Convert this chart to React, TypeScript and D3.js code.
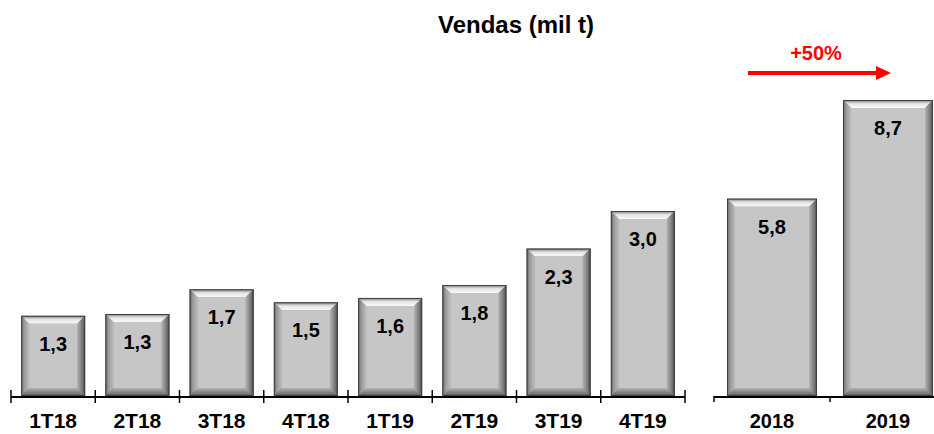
import React from "react";
import * as d3 from "d3";

const quarters = ["1T18", "2T18", "3T18", "4T18", "1T19", "2T19", "3T19", "4T19"];
const quarterValues = [1.3, 1.33, 1.73, 1.52, 1.59, 1.8, 2.39, 3.0];
const quarterLabels = ["1,3", "1,3", "1,7", "1,5", "1,6", "1,8", "2,3", "3,0"];
const years = ["2018", "2019"];
const yearValues = [5.8, 8.7];
const yearLabels = ["5,8", "8,7"];
const title = "Vendas (mil t)";
const growthLabel = "+50%";

const W = 934;
const H = 434;
const baseY = 396;
const FONT = "Arial, 'Liberation Sans', sans-serif";

function Bar({ x, y, w, h, label }: { x: number; y: number; w: number; h: number; label: string }) {
  const b = 8;
  const x1 = x + w;
  const y1 = y + h;
  const pts = (a: number[][]) => a.map((p) => p.join(",")).join(" ");
  return (
    <g>
      <rect x={x} y={y} width={w} height={h} fill="#8c8c8c" />
      <polygon points={pts([[x, y], [x1, y], [x1 - b, y + b], [x + b, y + b]])} fill="url(#gTop)" />
      <polygon points={pts([[x, y], [x + b, y + b], [x + b, y1 - b], [x, y1]])} fill="url(#gLeft)" />
      <polygon points={pts([[x1, y], [x1, y1], [x1 - b, y1 - b], [x1 - b, y + b]])} fill="url(#gRight)" />
      <polygon points={pts([[x, y1], [x1, y1], [x1 - b, y1 - b], [x + b, y1 - b]])} fill="url(#gBottom)" />
      <rect x={x + b} y={y + b} width={w - 2 * b} height={h - 2 * b} fill="#c6c6c6" />
      <rect x={x + 0.5} y={y + 0.5} width={w - 1} height={h - 1} fill="none" stroke="#404040" strokeWidth={1} />
      <text x={x + w / 2} y={y + 35} textAnchor="middle" fontFamily={FONT} fontWeight="bold" fontSize={20} fill="#000">
        {label}
      </text>
    </g>
  );
}

export default function App() {
  const xq = d3.scaleBand<string>().domain(quarters).range([11, 685]).paddingInner(0.24).paddingOuter(0.12);
  const yq = d3.scaleLinear().domain([0, 3.0]).range([baseY, 211]);
  const xy = d3.scaleBand<string>().domain(years).range([714, 946]).paddingInner(0.224).paddingOuter(0.112);
  const yy = d3.scaleLinear().domain([0, 8.7]).range([baseY, 100]);

  const qTicks = d3.range(quarters.length + 1).map((i) => 11 + i * xq.step());
  const yTicks = d3.range(years.length + 1).map((i) => 714 + i * xy.step());

  return (
    <svg width={W} height={H} style={{ position: "absolute", left: 0, top: 0, background: "#fff" }}>
      <defs>
        <linearGradient id="gTop" x1="0" y1="0" x2="0" y2="1">
          <stop offset="0" stopColor="#7a7a7a" />
          <stop offset="0.45" stopColor="#e4e4e4" />
          <stop offset="1" stopColor="#fafafa" />
        </linearGradient>
        <linearGradient id="gLeft" x1="0" y1="0" x2="1" y2="0">
          <stop offset="0" stopColor="#666" />
          <stop offset="0.4" stopColor="#9a9a9a" />
          <stop offset="1" stopColor="#bdbdbd" />
        </linearGradient>
        <linearGradient id="gRight" x1="0" y1="0" x2="1" y2="0">
          <stop offset="0" stopColor="#b4b4b4" />
          <stop offset="0.6" stopColor="#7c7c7c" />
          <stop offset="1" stopColor="#4a4a4a" />
        </linearGradient>
        <linearGradient id="gBottom" x1="0" y1="0" x2="0" y2="1">
          <stop offset="0" stopColor="#b4b4b4" />
          <stop offset="1" stopColor="#5a5a5a" />
        </linearGradient>
      </defs>

      <text x={516} y={33} textAnchor="middle" fontFamily={FONT} fontWeight="bold" fontSize={24} fill="#000">
        {title}
      </text>

      {quarters.map((q, i) => (
        <Bar key={q} x={xq(q)!} y={yq(quarterValues[i])} w={xq.bandwidth()} h={baseY - yq(quarterValues[i])} label={quarterLabels[i]} />
      ))}
      {years.map((yr, i) => (
        <Bar key={yr} x={xy(yr)!} y={yy(yearValues[i])} w={xy.bandwidth()} h={baseY - yy(yearValues[i])} label={yearLabels[i]} />
      ))}

      <line x1={11} x2={685} y1={baseY + 1} y2={baseY + 1} stroke="#000" strokeWidth={2} />
      {qTicks.map((t, i) => (
        <line key={"qt" + i} x1={t} x2={t} y1={baseY - 6} y2={baseY + 7} stroke="#000" strokeWidth={1.5} />
      ))}
      <line x1={714} x2={946} y1={baseY + 1} y2={baseY + 1} stroke="#000" strokeWidth={2} />
      {yTicks.map((t, i) => (
        <line key={"yt" + i} x1={t} x2={t} y1={baseY} y2={baseY + 6} stroke="#000" strokeWidth={1.5} />
      ))}

      {quarters.map((q) => (
        <text key={"l" + q} x={xq(q)! + xq.bandwidth() / 2} y={428} textAnchor="middle" fontFamily={FONT} fontWeight="bold" fontSize={21} fill="#000">
          {q}
        </text>
      ))}
      {years.map((yr) => (
        <text key={"l" + yr} x={xy(yr)! + xy.bandwidth() / 2} y={428} textAnchor="middle" fontFamily={FONT} fontWeight="bold" fontSize={20} fill="#000">
          {yr}
        </text>
      ))}

      <line x1={748} x2={878} y1={73} y2={73} stroke="#ff0000" strokeWidth={4} />
      <polygon points="876,66 891,73 876,80" fill="#ff0000" />
      <text x={816} y={60} textAnchor="middle" fontFamily={FONT} fontWeight="bold" fontSize={20} fill="#ff0000">
        {growthLabel}
      </text>
    </svg>
  );
}
